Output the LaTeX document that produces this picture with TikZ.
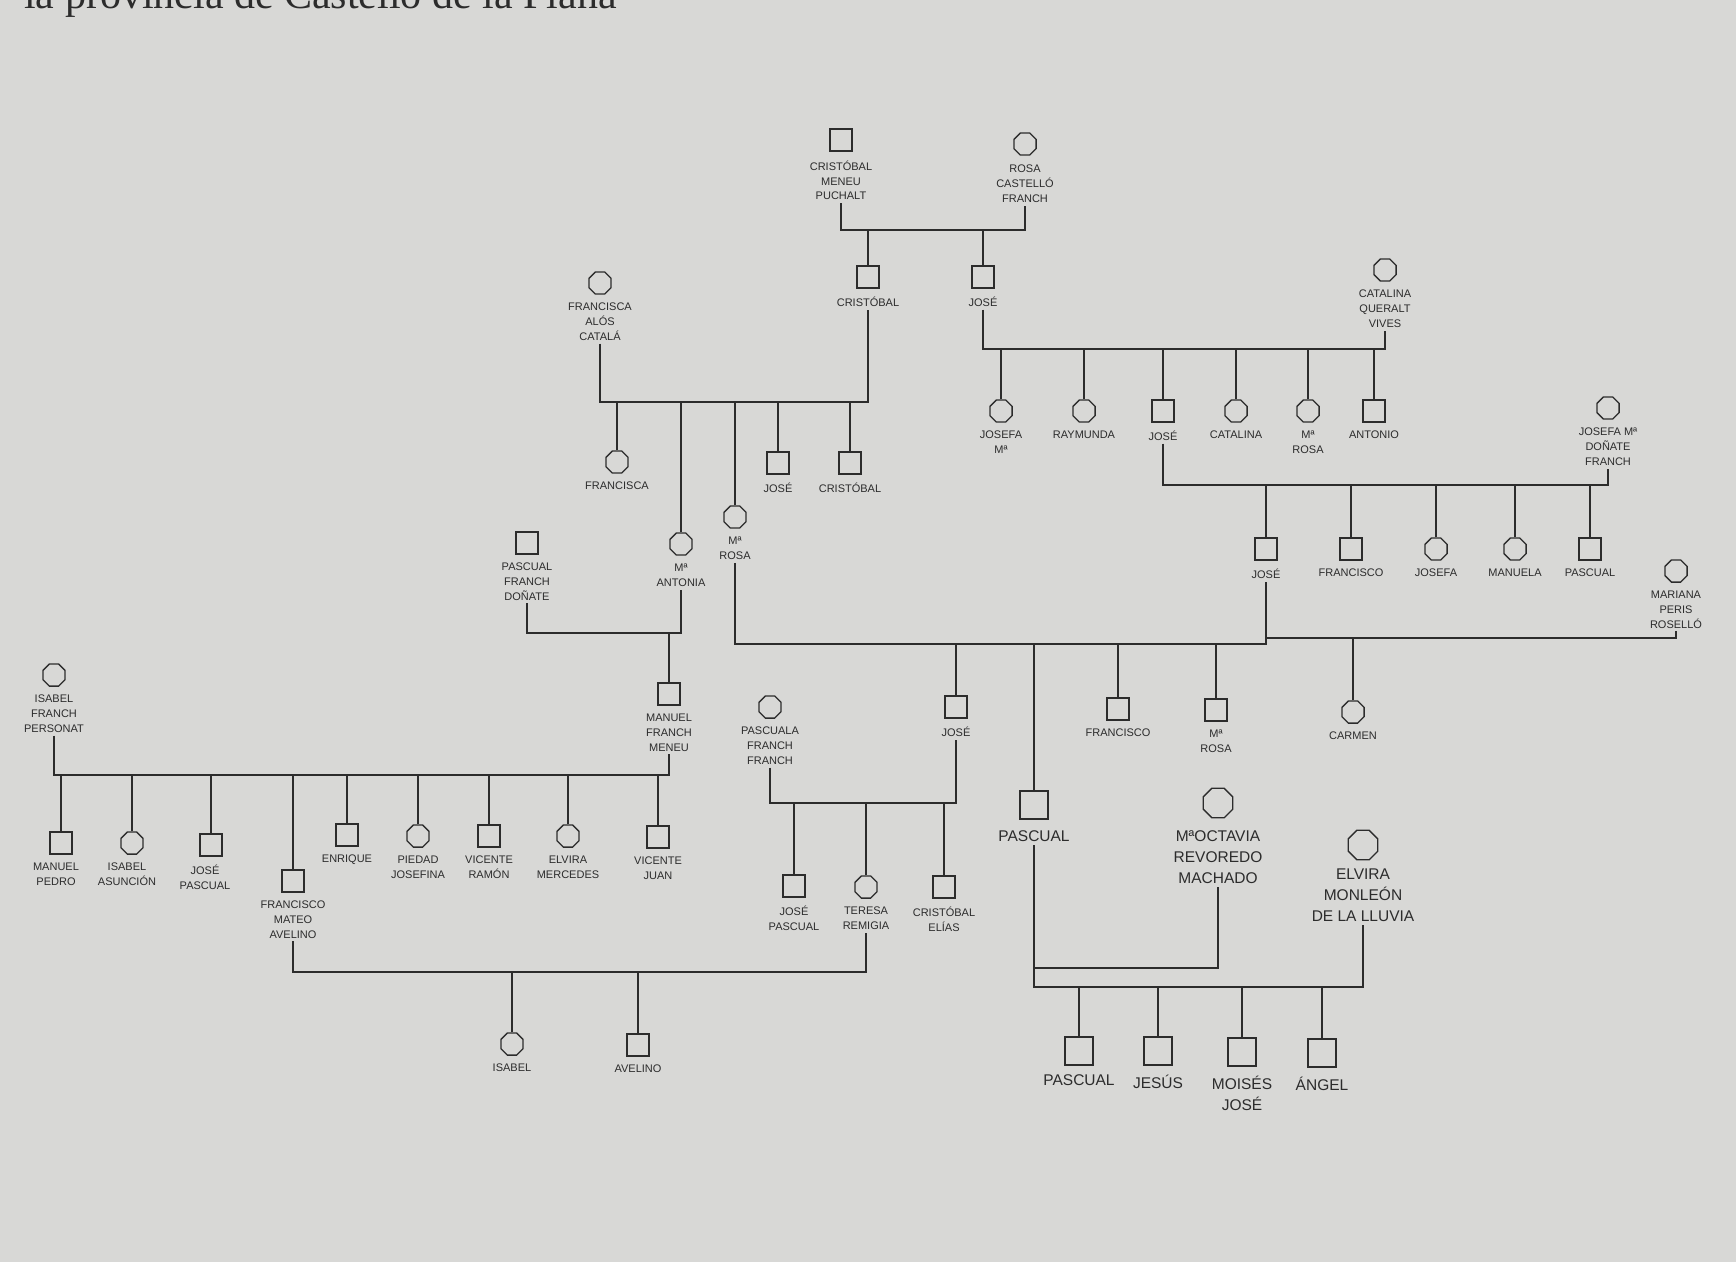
\documentclass[tikz,border=0pt]{standalone}
\usepackage{fontspec}
\setmainfont{Liberation Sans}
\newfontfamily\headserif{Liberation Serif}
\usetikzlibrary{positioning,shapes.geometric}

\definecolor{paper}{RGB}{216,216,214}
\definecolor{ink}{RGB}{44,44,44}

\tikzset{
  male/.style      ={draw=ink, line width=1.3pt, rectangle, minimum size=22pt, inner sep=0pt},
  female/.style    ={draw=ink, line width=1.3pt, regular polygon, regular polygon sides=8, minimum size=24pt, inner sep=0pt},
  bigmale/.style   ={male, minimum size=28pt},
  bigfemale/.style ={female, minimum size=32pt},
  who/.style       ={text=ink, font=\fontsize{11}{14.8}\selectfont, align=center, inner xsep=1pt, inner ysep=3pt},
  bigwho/.style    ={who, font=\fontsize{15.5}{21}\selectfont},
  tie/.style       ={draw=ink, line width=1.3pt}
}

\begin{document}
\begin{tikzpicture}[x=1pt, y=-1pt]
        \useasboundingbox (0,0) rectangle (1736,1262);
        \clip (0,0) rectangle (1736,1262);
        \fill [paper] (0,0) rectangle (1736,1262);                      % page
        \node [anchor=base west, inner sep=0pt, text=ink, font=\headserif\fontsize{42}{50}\selectfont]
              (head) at (24,8) {la provincia de Castelló de la Plana};

        % grandparents
        \node [male]      (cmp)  at (841,140)  {};  \node [who, below=6pt of cmp]  (cmp-n)  {CRISTÓBAL\\MENEU\\PUCHALT};
        \node [female]    (rcf)  at (1025,144) {};  \node [who, below=6pt of rcf]  (rcf-n)  {ROSA\\CASTELLÓ\\FRANCH};
        \node [male]      (cris) at (868,277)  {};  \node [who, below=5pt of cris] (cris-n) {CRISTÓBAL};
        \node [male]      (jsa)  at (983,277)  {};  \node [who, below=5pt of jsa]  (jsa-n)  {JOSÉ};
        \node [female]    (fac)  at (600,283)  {};  \node [who, below=5pt of fac]  (fac-n)  {FRANCISCA\\ALÓS\\CATALÁ};
        \node [female]    (cqv)  at (1385,270) {};  \node [who, below=5pt of cqv]  (cqv-n)  {CATALINA\\QUERALT\\VIVES};

        % Cristobal + Francisca
        \node [female]    (fra)  at (617,462)  {};  \node [who, below=5pt of fra]  (fra-n)  {FRANCISCA};
        \node [female]    (mant) at (681,544)  {};  \node [who, below=5pt of mant] (mant-n) {Mª\\ANTONIA};
        \node [female]    (mros) at (735,517)  {};  \node [who, below=5pt of mros] (mros-n) {Mª\\ROSA};
        \node [male]      (jsb)  at (778,463)  {};  \node [who, below=5pt of jsb]  (jsb-n)  {JOSÉ};
        \node [male]      (crb)  at (850,463)  {};  \node [who, below=5pt of crb]  (crb-n)  {CRISTÓBAL};

        % Jose + Catalina
        \node [female]    (jfm)  at (1001,411) {};  \node [who, below=5pt of jfm]  (jfm-n)  {JOSEFA\\Mª};
        \node [female]    (ray)  at (1084,411) {};  \node [who, below=5pt of ray]  (ray-n)  {RAYMUNDA};
        \node [male]      (jsc)  at (1163,411) {};  \node [who, below=5pt of jsc]  (jsc-n)  {JOSÉ};
        \node [female]    (cat)  at (1236,411) {};  \node [who, below=5pt of cat]  (cat-n)  {CATALINA};
        \node [female]    (mrb)  at (1308,411) {};  \node [who, below=5pt of mrb]  (mrb-n)  {Mª\\ROSA};
        \node [male]      (ant)  at (1374,411) {};  \node [who, below=5pt of ant]  (ant-n)  {ANTONIO};

        % Jose + Josefa Ma
        \node [female]    (jmd)  at (1608,408) {};  \node [who, below=5pt of jmd]  (jmd-n)  {JOSEFA Mª\\DOÑATE\\FRANCH};
        \node [male]      (jsd)  at (1266,549) {};  \node [who, below=5pt of jsd]  (jsd-n)  {JOSÉ};
        \node [male]      (frb)  at (1351,549) {};  \node [who, below=5pt of frb]  (frb-n)  {FRANCISCO};
        \node [female]    (jfa)  at (1436,549) {};  \node [who, below=5pt of jfa]  (jfa-n)  {JOSEFA};
        \node [female]    (mnl)  at (1515,549) {};  \node [who, below=5pt of mnl]  (mnl-n)  {MANUELA};
        \node [male]      (psa)  at (1590,549) {};  \node [who, below=5pt of psa]  (psa-n)  {PASCUAL};
        \node [female]    (mpr)  at (1676,571) {};  \node [who, below=5pt of mpr]  (mpr-n)  {MARIANA\\PERIS\\ROSELLÓ};

        % Jose + Ma Rosa, Jose + Mariana
        \node [male]      (jse)  at (956,707)  {};  \node [who, below=5pt of jse]  (jse-n)  {JOSÉ};
        \node [bigmale]   (psb)  at (1034,805) {};  \node [bigwho, below=8pt of psb] (psb-n) {PASCUAL};
        \node [male]      (frc)  at (1118,709) {};  \node [who, below=5pt of frc]  (frc-n)  {FRANCISCO};
        \node [male]      (mrc)  at (1216,710) {};  \node [who, below=5pt of mrc]  (mrc-n)  {Mª\\ROSA};
        \node [female]    (crm)  at (1353,712) {};  \node [who, below=5pt of crm]  (crm-n)  {CARMEN};

        % Pascual + Ma Antonia
        \node [male]      (pfd)  at (527,543)  {};  \node [who, below=5pt of pfd]  (pfd-n)  {PASCUAL\\FRANCH\\DOÑATE};
        \node [male]      (mfm)  at (669,694)  {};  \node [who, below=5pt of mfm]  (mfm-n)  {MANUEL\\FRANCH\\MENEU};
        \node [female]    (ifp)  at (54,675)   {};  \node [who, below=5pt of ifp]  (ifp-n)  {ISABEL\\FRANCH\\PERSONAT};

        % Manuel + Isabel
        \node [male]      (mpe)  at (61,843)   {};  \node [who, below=5pt of mpe, xshift=-5pt] (mpe-n) {MANUEL\\PEDRO};
        \node [female]    (isa)  at (132,843)  {};  \node [who, below=5pt of isa, xshift=-5pt] (isa-n) {ISABEL\\ASUNCIÓN};
        \node [male]      (jpa)  at (211,845)  {};  \node [who, below=5pt of jpa, xshift=-6pt] (jpa-n) {JOSÉ\\PASCUAL};
        \node [male]      (fma)  at (293,881)  {};  \node [who, below=5pt of fma]  (fma-n)  {FRANCISCO\\MATEO\\AVELINO};
        \node [male]      (enr)  at (347,835)  {};  \node [who, below=5pt of enr]  (enr-n)  {ENRIQUE};
        \node [female]    (pjo)  at (418,836)  {};  \node [who, below=5pt of pjo]  (pjo-n)  {PIEDAD\\JOSEFINA};
        \node [male]      (vra)  at (489,836)  {};  \node [who, below=5pt of vra]  (vra-n)  {VICENTE\\RAMÓN};
        \node [female]    (eme)  at (568,836)  {};  \node [who, below=5pt of eme]  (eme-n)  {ELVIRA\\MERCEDES};
        \node [male]      (vju)  at (658,837)  {};  \node [who, below=5pt of vju]  (vju-n)  {VICENTE\\JUAN};

        % Jose + Pascuala
        \node [female]    (pff)  at (770,707)  {};  \node [who, below=5pt of pff]  (pff-n)  {PASCUALA\\FRANCH\\FRANCH};
        \node [male]      (jpb)  at (794,886)  {};  \node [who, below=5pt of jpb]  (jpb-n)  {JOSÉ\\PASCUAL};
        \node [female]    (trm)  at (866,887)  {};  \node [who, below=5pt of trm]  (trm-n)  {TERESA\\REMIGIA};
        \node [male]      (cel)  at (944,887)  {};  \node [who, below=5pt of cel]  (cel-n)  {CRISTÓBAL\\ELÍAS};

        % Francisco + Teresa
        \node [female]    (isb)  at (512,1044) {};  \node [who, below=5pt of isb]  (isb-n)  {ISABEL};
        \node [male]      (ave)  at (638,1045) {};  \node [who, below=5pt of ave]  (ave-n)  {AVELINO};

        % Pascual + Ma Octavia, Pascual + Elvira
        \node [bigfemale] (mor)  at (1218,803) {};  \node [bigwho, below=9pt of mor] (mor-n) {MªOCTAVIA\\REVOREDO\\MACHADO};
        \node [bigfemale] (eml)  at (1363,845) {};  \node [bigwho, below=5pt of eml] (eml-n) {ELVIRA\\MONLEÓN\\DE LA LLUVIA};
        \node [bigmale]   (psc)  at (1079,1051) {}; \node [bigwho, below=6pt of psc] (psc-n) {PASCUAL};
        \node [bigmale]   (jes)  at (1158,1051) {}; \node [bigwho, below=6pt of jes] (jes-n) {JESÚS};
        \node [bigmale]   (mjo)  at (1242,1052) {}; \node [bigwho, below=6pt of mjo] (mjo-n) {MOISÉS\\JOSÉ};
        \node [bigmale]   (ang)  at (1322,1053) {}; \node [bigwho, below=6pt of ang] (ang-n) {ÁNGEL};

        % union lines
        \coordinate (u1)  at (930,230);
        \coordinate (u2)  at (700,402);
        \coordinate (u3)  at (1200,349);
        \coordinate (u4)  at (1400,485);
        \coordinate (u5)  at (1000,644);
        \coordinate (u6)  at (1400,638);
        \coordinate (u7)  at (600,633);
        \coordinate (u8)  at (400,775);
        \coordinate (u9)  at (860,803);
        \coordinate (u10) at (500,972);
        \coordinate (u11) at (1100,968);
        \coordinate (u12) at (1200,987);

        \draw [tie] (cmp-n.south)  |- (u1)  -| (rcf-n.south);
        \draw [tie] (fac-n.south)  |- (u2)  -| (cris-n.south);
        \draw [tie] (jsa-n.south)  |- (u3)  -| (cqv-n.south);
        \draw [tie] (jsc-n.south)  |- (u4)  -| (jmd-n.south);
        \draw [tie] (mros-n.south) |- (u5)  -| (jsd-n.south);
        \draw [tie] (jsd-n.south |- u6)     -| (mpr-n.south);
        \draw [tie] (pfd-n.south)  |- (u7)  -| (mant-n.south);
        \draw [tie] (ifp-n.south)  |- (u8)  -| (mfm-n.south);
        \draw [tie] (pff-n.south)  |- (u9)  -| (jse-n.south);
        \draw [tie] (fma-n.south)  |- (u10) -| (trm-n.south);
        \draw [tie] (psb-n.south)  |- (u11) -| (mor-n.south);
        \draw [tie] (psb-n.south)  |- (u12) -| (eml-n.south);

        % children
        \foreach \k in {cris,jsa}              \draw [tie] (\k.north) -- (\k.north |- u1);
        \foreach \k in {fra,mant,mros,jsb,crb} \draw [tie] (\k.north) -- (\k.north |- u2);
        \foreach \k in {jfm,ray,jsc,cat,mrb,ant} \draw [tie] (\k.north) -- (\k.north |- u3);
        \foreach \k in {jsd,frb,jfa,mnl,psa}   \draw [tie] (\k.north) -- (\k.north |- u4);
        \foreach \k in {jse,psb,frc,mrc}       \draw [tie] (\k.north) -- (\k.north |- u5);
        \foreach \k in {crm}                   \draw [tie] (\k.north) -- (\k.north |- u6);
        \foreach \k in {mfm}                   \draw [tie] (\k.north) -- (\k.north |- u7);
        \foreach \k in {mpe,isa,jpa,fma,enr,pjo,vra,eme,vju} \draw [tie] (\k.north) -- (\k.north |- u8);
        \foreach \k in {jpb,trm,cel}           \draw [tie] (\k.north) -- (\k.north |- u9);
        \foreach \k in {isb,ave}               \draw [tie] (\k.north) -- (\k.north |- u10);
        \foreach \k in {psc,jes,mjo,ang}       \draw [tie] (\k.north) -- (\k.north |- u12);
\end{tikzpicture}
\end{document}
